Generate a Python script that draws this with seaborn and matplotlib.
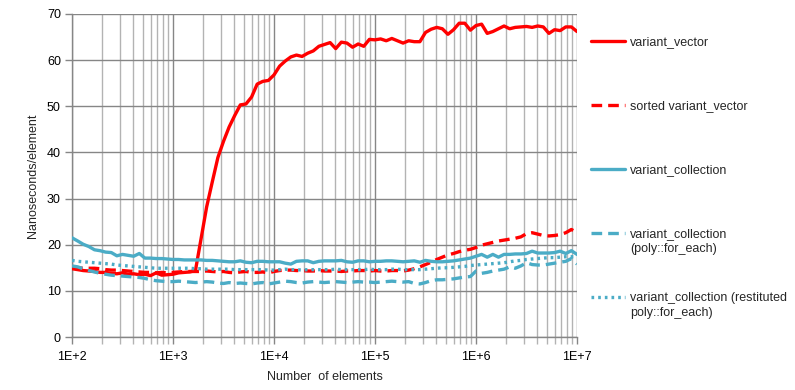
import matplotlib
matplotlib.use("Agg")
import numpy as np
import matplotlib.pyplot as plt
import matplotlib.ticker as mticker
from matplotlib.legend_handler import HandlerLine2D
import seaborn as sns
import pandas as pd

# ---------------- data ----------------
n_elements = [100, 114, 129, 147, 167, 190, 215, 245, 278, 316, 359, 408, 464, 527, 599, 681, 774, 880,
              1000, 1136, 1292, 1468, 1668, 1896, 2154, 2448, 2783, 3162, 3594, 4084, 4642, 5275, 5995, 6813, 7743, 8799,
              10000, 11365, 12915, 14678, 16681, 18957, 21544, 24484, 27826, 31623, 35938, 40842, 46416, 52749, 59948, 68129, 77426, 87992,
              100000, 113646, 129155, 146780, 166810, 189574, 215443, 244844, 278256, 316228, 359381, 408424, 464159, 527500, 599484, 681292, 774264, 879923,
              1000000, 1136464, 1291550, 1467799, 1668101, 1895735, 2154435, 2448437, 2782559, 3162278, 3593814, 4084239, 4641589, 5274997, 5994843, 6812921, 7742637, 8799225,
              10000000]

variant_vector = [14.8, 14.6, 14.4, 14.3, 14.2, 14.0, 14.0, 13.8, 13.7, 13.9, 13.6, 13.7, 13.5, 13.6, 13.3, 13.9, 13.4, 13.5,
                  13.6, 13.9, 14.0, 14.1, 14.4, 21.3, 28.2, 33.6, 38.9, 42.4, 45.5, 48.0, 50.3, 50.5, 52.0, 54.8, 55.4, 55.6,
                  56.8, 58.7, 59.8, 60.7, 61.1, 60.8, 61.5, 62.0, 63.0, 63.4, 63.8, 62.5, 63.9, 63.7, 62.8, 63.5, 63.0, 64.5,
                  64.4, 64.6, 64.2, 64.7, 64.2, 63.7, 64.2, 64.0, 64.0, 66.0, 66.7, 67.1, 66.8, 65.6, 66.6, 68.0, 68.0, 66.5,
                  67.5, 67.8, 65.8, 66.2, 66.8, 67.4, 66.8, 67.1, 67.2, 67.3, 67.1, 67.4, 67.2, 65.8, 66.6, 66.4, 67.2, 67.2,
                  66.2]

sorted_variant_vector = [15.1, 15.0, 14.9, 14.9, 14.9, 14.8, 14.6, 14.5, 14.5, 14.4, 14.3, 14.2, 14.1, 14.0, 14.0, 13.9, 14.0, 13.9,
                         14.0, 14.1, 14.2, 14.2, 14.2, 14.2, 14.3, 14.2, 14.1, 14.2, 14.0, 13.9, 14.1, 14.2, 14.0, 14.0, 14.1, 13.9,
                         14.2, 14.4, 14.5, 14.5, 14.4, 14.4, 14.3, 14.3, 14.4, 14.3, 14.3, 14.3, 14.2, 14.3, 14.3, 14.4, 14.4, 14.3,
                         14.4, 14.3, 14.3, 14.4, 14.4, 14.3, 14.5, 14.8, 15.2, 15.7, 16.2, 16.8, 17.3, 17.8, 18.1, 18.5, 18.8, 19.0,
                         19.4, 19.9, 20.2, 20.5, 20.8, 21.0, 21.2, 21.4, 21.7, 22.4, 22.6, 22.3, 22.0, 21.9, 22.0, 22.2, 22.6, 23.3,
                         22.6]

variant_collection = [21.5, 20.8, 20.1, 19.6, 18.9, 18.7, 18.4, 18.3, 17.6, 17.9, 17.7, 17.5, 18.1, 17.1, 17.1, 17.0, 17.0, 16.9,
                      16.8, 16.8, 16.7, 16.7, 16.7, 16.7, 16.6, 16.6, 16.5, 16.4, 16.3, 16.3, 16.5, 16.2, 16.1, 16.4, 16.4, 16.3,
                      16.3, 16.3, 16.0, 15.8, 16.4, 16.5, 16.5, 16.1, 16.4, 16.5, 16.5, 16.5, 16.6, 16.3, 16.2, 16.5, 16.5, 16.3,
                      16.4, 16.4, 16.5, 16.5, 16.4, 16.3, 16.4, 16.5, 16.2, 16.6, 16.4, 16.3, 16.3, 16.4, 16.5, 16.7, 16.9, 17.1,
                      17.5, 17.9, 17.3, 17.9, 17.3, 17.9, 17.9, 18.0, 18.0, 18.1, 18.6, 18.2, 18.2, 18.2, 18.3, 18.6, 18.1, 18.7,
                      17.9]

collection_poly = [15.4, 15.2, 14.8, 14.4, 14.1, 13.8, 13.6, 13.4, 13.3, 13.2, 13.1, 13.0, 12.9, 12.7, 12.4, 12.2, 12.1, 12.0,
                   12.0, 12.1, 12.0, 11.9, 11.8, 11.9, 12.0, 11.9, 11.7, 11.6, 11.8, 11.6, 11.7, 11.6, 11.5, 11.7, 11.8, 11.5,
                   11.7, 11.9, 12.1, 12.0, 11.8, 11.7, 11.9, 12.0, 11.9, 11.8, 11.9, 12.0, 11.9, 11.8, 11.9, 12.0, 11.9, 11.9,
                   11.8, 11.9, 12.0, 12.1, 12.0, 11.9, 12.0, 11.6, 11.5, 11.8, 12.2, 12.4, 12.4, 12.5, 12.6, 12.8, 13.0, 13.1,
                   14.3, 13.8, 14.0, 14.3, 14.5, 14.7, 15.2, 14.9, 15.4, 16.1, 15.7, 15.6, 15.6, 15.8, 16.0, 16.2, 16.4, 17.0,
                   15.8]

collection_restituted = [16.6, 16.4, 16.3, 16.2, 16.1, 16.0, 15.9, 15.8, 15.6, 15.5, 15.4, 15.3, 15.2, 15.1, 15.0, 14.9, 14.9, 14.9,
                         14.9, 14.9, 14.9, 14.9, 14.8, 14.8, 14.7, 14.7, 14.7, 14.7, 14.7, 14.6, 14.6, 14.6, 14.6, 14.6, 14.6, 14.5,
                         14.5, 14.6, 14.7, 14.6, 14.6, 14.5, 14.6, 14.6, 14.6, 14.6, 14.6, 14.7, 14.6, 14.6, 14.6, 14.6, 14.6, 14.7,
                         14.6, 14.6, 14.6, 14.7, 14.7, 14.6, 14.6, 14.6, 14.6, 14.7, 14.8, 14.9, 15.0, 15.0, 15.1, 15.2, 15.3, 15.5,
                         15.6, 15.7, 15.8, 15.9, 16.0, 16.1, 16.3, 16.5, 16.6, 16.8, 16.9, 17.0, 17.1, 17.2, 17.2, 17.3, 17.4, 17.4,
                         17.4]

series_labels = ["variant_vector", "sorted variant_vector", "variant_collection",
                 "variant_collection\n(poly::for_each)", "variant_collection (restituted\npoly::for_each)"]
y_ticks = [0, 10, 20, 30, 40, 50, 60, 70]
x_ticks = [1e2, 1e3, 1e4, 1e5, 1e6, 1e7]
x_tick_labels = ["1E+2", "1E+3", "1E+4", "1E+5", "1E+6", "1E+7"]

# ---------------- style ----------------
sns.set_theme(style="white")
plt.rcParams['font.family'] = ['Liberation Sans', 'DejaVu Sans']

RED = "#FF0000"
BLUE = "#4BACC6"
styles = [
    dict(color=RED, dashes=None),
    dict(color=RED, dashes=(3.2, 1.8)),
    dict(color=BLUE, dashes=None),
    dict(color=BLUE, dashes=(3.2, 1.8)),
    dict(color=BLUE, dashes=(0.8, 1.2)),
]
series_values = [variant_vector, sorted_variant_vector, variant_collection,
                 collection_poly, collection_restituted]


class FirstLineHandler(HandlerLine2D):
    """Legend line aligned with the first line of a two-line label."""
    def __init__(self, dy, **kw):
        super().__init__(**kw)
        self.dy = dy

    def create_artists(self, legend, orig_handle, xdescent, ydescent, width, height, fontsize, trans):
        arts = super().create_artists(legend, orig_handle, xdescent, ydescent, width, height, fontsize, trans)
        for a in arts:
            a.set_ydata(np.asarray(a.get_ydata(), dtype=float) + self.dy)
        return arts


FS = 9
fig = plt.figure(figsize=(7.95, 3.9), dpi=100)
ax = fig.add_axes([72 / 795, 1 - 337 / 390, (577 - 72) / 795, (337 - 14) / 390])

handles = []
for vals, lab, st in zip(series_values, series_labels, styles):
    df = pd.DataFrame({"n": n_elements, "ns": vals})
    sns.lineplot(data=df, x="n", y="ns", ax=ax, color=st["color"], linewidth=2.4,
                 label=lab, legend=False, zorder=3)
    line = ax.lines[-1]
    if st["dashes"] is not None:
        line.set_dashes(st["dashes"])
        line.set_dash_capstyle("butt")
    handles.append(line)

ax.set_xscale("log")
ax.set_xlim(1e2, 1e7)
ax.set_ylim(0, 70)
ax.set_yticks(y_ticks)
ax.set_xticks(x_ticks)
ax.set_xticklabels(x_tick_labels)
ax.xaxis.set_minor_locator(mticker.LogLocator(base=10, subs=range(2, 10), numticks=20))
ax.xaxis.set_minor_formatter(mticker.NullFormatter())

MAJ = "#868686"
MIN = "#B3B3B3"
ax.grid(True, which="major", axis="both", color=MAJ, linewidth=1.0, zorder=0)
ax.grid(True, which="minor", axis="x", color=MIN, linewidth=1.0, zorder=0)
for s in ["left", "bottom"]:
    ax.spines[s].set_color(MAJ)
    ax.spines[s].set_linewidth(1.0)
for s in ["top", "right"]:
    ax.spines[s].set_visible(False)
ax.tick_params(axis="both", which="major", direction="out", length=5, width=1, color=MAJ,
               labelsize=FS, labelcolor="#000000", pad=3)
ax.tick_params(axis="x", which="minor", direction="out", length=5, width=1, color=MIN, bottom=True)
ax.tick_params(axis="x", which="major", bottom=True, pad=5)
ax.tick_params(axis="y", which="major", left=True)

ax.set_xlabel("Number  of elements", fontsize=FS, labelpad=6)
ax.set_ylabel("Nanoseconds/element", fontsize=FS, labelpad=6)

# legend: one entry per block, placed on the right
legend_y = [41, 105, 169, 233, 297]
for h, lab, yy in zip(handles, series_labels, legend_y):
    multi = "\n" in lab
    hmap = {h: FirstLineHandler(6.3)} if multi else {}
    leg = fig.legend([h], [lab], loc="upper left",
                     bbox_to_anchor=(591 / 795, 1 - (yy - 5) / 390),
                     frameon=False, fontsize=FS, handlelength=2.75, handletextpad=0.4,
                     borderpad=0, borderaxespad=0, handler_map=hmap)
    for t in leg.get_texts():
        t.set_linespacing(1.35)

fig.savefig("out.png", dpi=100)
